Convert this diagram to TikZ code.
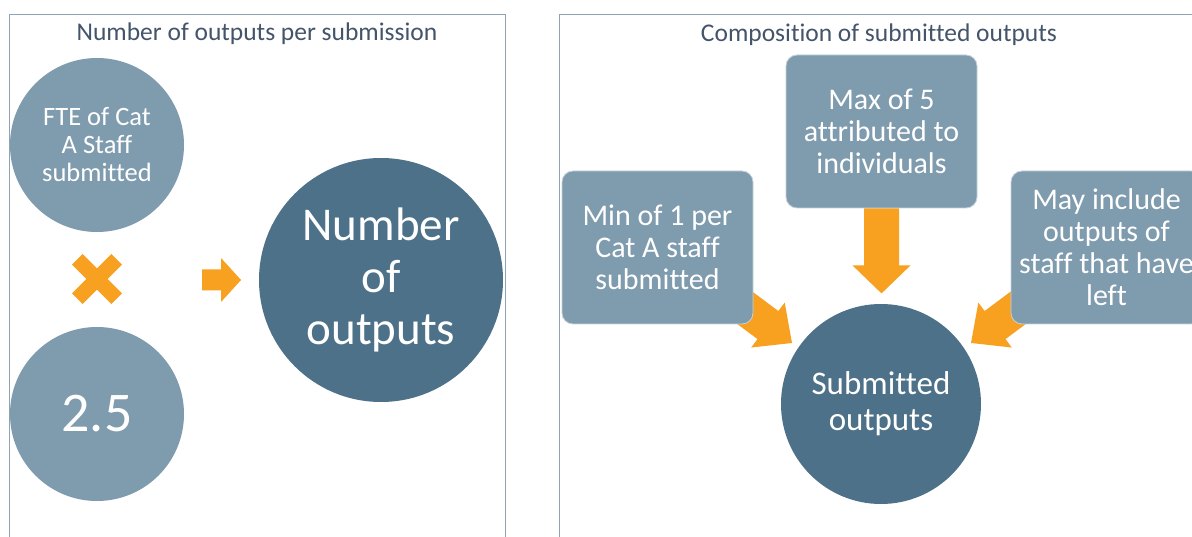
\documentclass[tikz,border=0pt]{standalone}
\usepackage{fontspec}
\setmainfont{Carlito}[Ligatures=NoCommon]
\definecolor{lightc}{HTML}{7F9BAE}
\definecolor{darkc}{HTML}{4D7188}
\definecolor{arrowc}{HTML}{F8A01F}
\definecolor{titlec}{HTML}{44546A}
\definecolor{panelc}{HTML}{8FA3B4}
\begin{document}
\begin{tikzpicture}[x=1pt,y=-1pt,
  panel/.style={draw=panelc,line width=1pt},
  titletext/.style={text=titlec,font=\fontsize{25.5}{28}\selectfont,inner sep=0},
  lcirc/.style={circle,fill=lightc,text=white,align=center,inner sep=0},
  dcirc/.style={circle,fill=darkc,text=white,align=center,inner sep=0},
  boxnode/.style={rectangle,rounded corners=11pt,fill=lightc,draw=white!55!lightc,line width=0.8pt,text=white,align=center,inner sep=0,
    font=\fontsize{30}{32}\selectfont,minimum width=191pt,minimum height=153pt},
  blockfill/.style={fill=arrowc}]
\useasboundingbox (0,0) rectangle (1192,537);
\clip (0,0) rectangle (1192,537);
\fill[white] (0,0) rectangle (1192,537);
% panels
\draw[panel] (9,560) -- (9,15) -- (505,15) -- (505,560);
\draw[panel] (559,560) -- (559,15) -- (1220,15);
% titles
\node[titletext] (t1) at (257,34) {Number of outputs per submission};
\node[titletext] (t2) at (879,35) {Composition of submitted outputs};
% left panel
\node[lcirc,minimum size=174pt,font=\fontsize{26.5}{28}\selectfont] (fte) at (97,145) {FTE of Cat\\A Staff\\submitted};
\node[lcirc,minimum size=174pt,font=\fontsize{56}{60}\selectfont] (two) at (97,414) {2.5};
\node[dcirc,minimum size=244pt,font=\fontsize{47}{52}\selectfont] (num) at (381,280) {Number\\of\\outputs};
\coordinate (xc) at (97,279);
\draw[arrowc,line width=15pt] ([shift={(-19.7,-19.7)}]xc) -- ([shift={(19.7,19.7)}]xc);
\draw[arrowc,line width=15pt] ([shift={(-19.7,19.7)}]xc) -- ([shift={(19.7,-19.7)}]xc);
\coordinate (rtip) at (241,280);
\fill[blockfill,shift={(rtip)}] (-39,-10.5) -- (-20,-10.5) -- (-20,-22) -- (0,0) -- (-20,22) -- (-20,10.5) -- (-39,10.5) -- cycle;
% right panel
\coordinate (ltip) at (792,343);
\coordinate (rtip2) at (971,343);
\fill[blockfill,shift={(ltip)},rotate=-36.7] (-80,-17.5) -- (-30,-17.5) -- (-30,-28) -- (0,0) -- (-30,28) -- (-30,17.5) -- (-80,17.5) -- cycle;
\fill[blockfill,shift={(rtip2)},rotate=-143.3] (-80,-17.5) -- (-30,-17.5) -- (-30,-28) -- (0,0) -- (-30,28) -- (-30,17.5) -- (-80,17.5) -- cycle;
\node[boxnode] (maxb) at (881.5,131.5) {Max of 5\\attributed to\\individuals};
\node[boxnode] (minb) at (657.5,247.5) {Min of 1 per\\Cat A staff\\submitted};
\node[boxnode] (mayb) at (1106.5,247.5) {May include\\outputs of\\staff that have\\left};
\node[dcirc,minimum size=200pt,font=\fontsize{33}{36}\selectfont] (sub) at (881,404) {Submitted\\outputs};
\fill[blockfill,shift={(maxb.south)},rotate=-90] (0,-17.5) -- (57,-17.5) -- (57,-29) -- (85,0) -- (57,29) -- (57,17.5) -- (0,17.5) -- cycle;
\end{tikzpicture}
\end{document}
